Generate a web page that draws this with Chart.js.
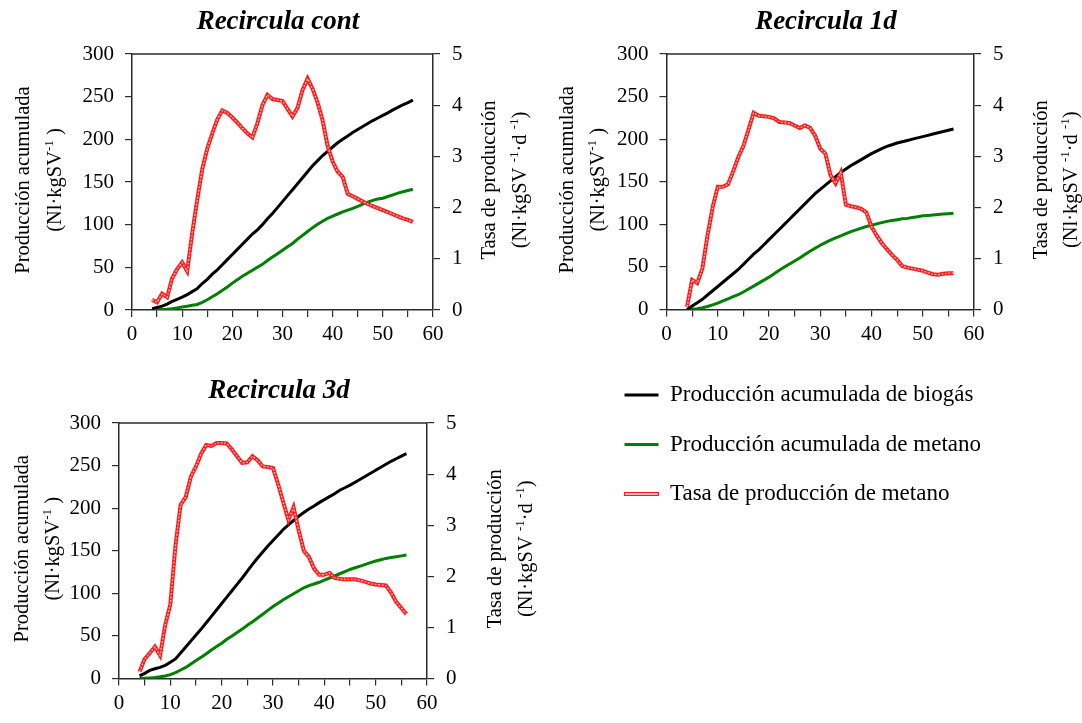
<!DOCTYPE html>
<html>
<head>
<meta charset="utf-8">
<script src="https://cdn.jsdelivr.net/npm/chart.js@4.4.1/dist/chart.umd.min.js"></script>
<style>
  html, body { margin: 0; padding: 0; background: #fff; width: 1082px; height: 723px; overflow: hidden; }
  canvas { position: absolute; }
</style>
</head>
<body>
<canvas id="cont"></canvas>
<canvas id="d1"></canvas>
<canvas id="d3"></canvas>
<canvas id="legend"></canvas>
<script>
// Days of digestion (x axis)
const days = [4, 5, 6, 7, 8, 9, 10, 11, 12, 13, 14, 15, 16, 17, 18, 19, 20, 21, 22, 23,
  24, 25, 26, 27, 28, 29, 30, 31, 32, 33, 34, 35, 36, 37, 38, 39, 40, 41, 42, 43,
  44, 45, 46, 47, 48, 49, 50, 51, 52, 53, 54, 55, 56];

// Recircula cont
const contBiogas = [1.5, 3, 4.5, 7, 10, 12.5, 15, 18, 21.5, 25, 31, 36, 42, 47, 53, 59, 65, 71, 77, 83,
  89, 94, 100, 107, 113, 120, 127, 134, 141, 148, 155, 162, 169, 175, 181, 186, 191, 196, 200, 204,
  208, 211.5, 215, 218.5, 222, 225, 228, 231, 234.5, 237.5, 240.5, 243, 246];
const contMetano = [0, 0.3, 0.7, 1, 1.5, 2.5, 3.5, 4.5, 5.5, 6.5, 9, 12, 15.5, 19, 23, 27, 31.5, 35.5, 39.5, 43,
  46.5, 50, 53.5, 58, 62, 66, 70, 74, 78, 83, 87.5, 92, 96.5, 100.5, 104, 107.5, 110, 112.5, 115, 117,
  119, 121.5, 124, 126.5, 128.5, 130, 131, 133, 135, 137, 138.5, 140, 141.5];
const contTasa = [0.2, 0.15, 0.32, 0.25, 0.62, 0.8, 0.93, 0.76, 1.5, 2.15, 2.75, 3.15, 3.45, 3.72, 3.9, 3.85, 3.76, 3.66, 3.55, 3.45,
  3.37, 3.65, 4.0, 4.2, 4.12, 4.1, 4.08, 3.93, 3.78, 3.95, 4.3, 4.52, 4.32, 4.05, 3.7, 3.2, 2.9, 2.7, 2.6, 2.27,
  2.22, 2.17, 2.12, 2.07, 2.03, 1.99, 1.95, 1.91, 1.87, 1.83, 1.79, 1.76, 1.72];

// Recircula 1d
const d1Biogas = [0, 4, 8, 12, 17, 22, 27, 32, 37, 42, 47, 53, 59, 65, 70, 76, 82, 88, 94, 100,
  106, 112, 118, 124, 130, 136, 141, 146, 151, 156, 161, 165, 169, 172.5, 176, 179.5, 183, 186, 189, 191.5,
  193.5, 195.5, 197, 198.5, 200, 201.5, 203, 204.5, 206, 207.5, 209, 210.5, 212];
const d1Metano = [0, 0.5, 1, 2, 3.5, 5.5, 7.5, 10, 12.5, 15, 17.5, 20.5, 24, 27.5, 31, 34.5, 38, 42, 46, 50,
  53.5, 57, 60.5, 64.5, 68.5, 72, 75.5, 78.5, 81.5, 84, 86.5, 89, 91.5, 93.5, 95.5, 97.5, 99, 100.5, 102, 103.5,
  104.5, 105.5, 106.5, 107, 108, 109, 110, 110.5, 111, 111.5, 112, 112.5, 113];
const d1Tasa = [0.05, 0.58, 0.52, 0.8, 1.45, 2.0, 2.4, 2.4, 2.45, 2.7, 2.98, 3.2, 3.52, 3.85, 3.79, 3.78, 3.77, 3.74, 3.67, 3.66,
  3.65, 3.6, 3.55, 3.6, 3.56, 3.4, 3.15, 3.05, 2.63, 2.47, 2.68, 2.05, 2.02, 2.0, 1.97, 1.9, 1.62, 1.45, 1.3, 1.18,
  1.07, 0.97, 0.85, 0.82, 0.8, 0.78, 0.76, 0.72, 0.69, 0.68, 0.7, 0.71, 0.71];

// Recircula 3d
const d3Biogas = [3, 6, 9.5, 11.5, 13, 15.5, 19, 23, 30, 37, 44, 51, 58, 65.5, 73, 80.5, 88, 95.5, 103, 110.5,
  118, 126, 134, 141.5, 148.5, 155.5, 162, 168.5, 175, 180.5, 185.5, 190.5, 195, 199, 202.5, 206.5, 210, 213.5, 217, 221,
  224, 227, 230.5, 234, 237.5, 241, 244.5, 248, 251.5, 255, 258, 261, 264];
const d3Metano = [0, 0.3, 0.7, 1.2, 2, 3, 4.5, 7, 10, 13, 17, 21, 25, 29, 33.5, 37.5, 41.5, 46, 50, 54,
  58, 62.5, 66.5, 71, 75.5, 80, 84.5, 88.5, 92.5, 96, 99.5, 103, 106.5, 109, 111, 113, 115.5, 118, 120.5, 123,
  125.5, 128, 130, 132, 134, 136, 138, 139.5, 141, 142, 143, 144, 145];
const d3Tasa = [0.13, 0.38, 0.5, 0.62, 0.45, 1.05, 1.45, 2.6, 3.4, 3.55, 3.95, 4.15, 4.4, 4.57, 4.55, 4.61, 4.61, 4.6, 4.48, 4.35,
  4.22, 4.23, 4.35, 4.27, 4.15, 4.14, 4.12, 3.8, 3.45, 3.1, 3.35, 2.9, 2.5, 2.38, 2.15, 2.03, 2.03, 2.07, 1.97, 1.95,
  1.94, 1.94, 1.94, 1.92, 1.89, 1.86, 1.84, 1.83, 1.82, 1.68, 1.5, 1.38, 1.26];

// Axis tick labels
const xTickLabels = [0, 10, 20, 30, 40, 50, 60];
const leftTicks = [0, 50, 100, 150, 200, 250, 300];
const rightTicks = [0, 1, 2, 3, 4, 5];

// Series names
const seriesNames = ['Producción acumulada de biogás', 'Producción acumulada de metano', 'Tasa de producción de metano'];

const FONT = '"Liberation Serif", "Times New Roman", serif';
const AXIS = '#2b2b2b';
const GREEN = '#008000';
const RED = '#ff1a1a';
const PINK = '#ffbcbc';
Chart.defaults.font.family = FONT;
Chart.defaults.color = '#000';

// Rotated (bottom-to-top) text with optional superscript runs
function drawRotated(ctx, parts, cx, cy, size) {
  const base = size + 'px ' + FONT;
  const sup = Math.round(size * 0.62) + 'px ' + FONT;
  ctx.save();
  ctx.translate(cx, cy);
  ctx.rotate(-Math.PI / 2);
  ctx.fillStyle = '#000';
  ctx.textBaseline = 'alphabetic';
  ctx.textAlign = 'left';
  let total = 0;
  parts.forEach(p => { ctx.font = p.sup ? sup : base; p.w = ctx.measureText(p.t).width; total += p.w; });
  let x = -total / 2;
  const baseY = size * 0.33;
  parts.forEach(p => {
    ctx.font = p.sup ? sup : base;
    ctx.fillText(p.t, x, p.sup ? baseY - size * 0.4 : baseY);
    x += p.w;
  });
  ctx.restore();
}

// Frame top edge and the two-line axis captions
const captionPlugin = {
  id: 'captions',
  afterDraw(chart, args, o) {
    const ctx = chart.ctx, a = chart.chartArea;
    ctx.save();
    ctx.strokeStyle = AXIS;
    ctx.lineWidth = 1.5;
    ctx.beginPath();
    ctx.moveTo(a.left, a.top);
    ctx.lineTo(a.right, a.top);
    ctx.stroke();
    ctx.restore();
    const cy = (a.top + a.bottom) / 2 + o.dy;
    const s = o.size;
    drawRotated(chart.ctx, [{ t: 'Producción acumulada' }], a.left + o.left1, cy, s);
    drawRotated(chart.ctx, [{ t: '(Nl·kgSV' }, { t: '-1', sup: true }, { t: ' )' }], a.left + o.left2, cy, s);
    drawRotated(chart.ctx, [{ t: 'Tasa de producción' }], a.right + o.right1, cy, s);
    drawRotated(chart.ctx, [{ t: '(Nl·kgSV ' }, { t: '-1', sup: true }, { t: '·d ' }, { t: '-1', sup: true }, { t: ')' }], a.right + o.right2, cy, s);
  }
};

function makePanel(id, g, title, biogas, metano, tasa, cap) {
  const el = document.getElementById(id);
  el.width = g.w; el.height = g.h;
  el.style.left = g.x + 'px'; el.style.top = g.y + 'px';
  const pts = (ys) => days.map((d, i) => ({ x: d, y: ys[i] }));
  const rate = pts(tasa);
  return new Chart(el, {
    type: 'line',
    data: {
      datasets: [
        { label: seriesNames[0], data: pts(biogas), yAxisID: 'y', borderColor: '#000', borderWidth: 3, pointRadius: 0, order: 2 },
        { label: seriesNames[1], data: pts(metano), yAxisID: 'y', borderColor: GREEN, borderWidth: 3, pointRadius: 0, order: 3 },
        // methane rate: red band with a light chained core
        { label: seriesNames[2], data: rate, yAxisID: 'y2', borderColor: RED, borderWidth: 4, pointRadius: 0, order: 1 },
        { label: seriesNames[2], data: rate, yAxisID: 'y2', borderColor: PINK, borderWidth: 1.3, borderDash: [2, 1.5],
          pointRadius: 0, order: 0 }
      ]
    },
    options: {
      responsive: false,
      animation: false,
      events: [],
      layout: { padding: 0 },
      plugins: {
        legend: { display: false },
        tooltip: { enabled: false },
        title: { display: true, text: title, color: '#000', font: { size: 27, weight: 'bold', style: 'italic' },
                 padding: { top: 6, bottom: 54 - 6 - 27 * 1.2 } },
        captions: cap
      },
      scales: {
        x: {
          type: 'linear', min: 0, max: 60,
          afterFit: (s) => { s.height = g.xH; },
          border: { color: AXIS, width: 1.5 },
          grid: { drawOnChartArea: false, color: AXIS, tickLength: 7, lineWidth: 1.2 },
          ticks: { stepSize: 5, autoSkip: false, maxRotation: 0, padding: 5, color: '#000', font: { size: 21 },
                   callback: (v) => xTickLabels.includes(v) ? String(v) : '' }
        },
        y: {
          position: 'left', min: leftTicks[0], max: leftTicks[leftTicks.length - 1],
          afterFit: (s) => { s.width = g.yW; },
          border: { color: AXIS, width: 1.5 },
          grid: { drawOnChartArea: false, color: AXIS, tickLength: 7, lineWidth: 1.2 },
          ticks: { stepSize: 50, padding: 11, color: '#000', font: { size: 21 } }
        },
        y2: {
          position: 'right', min: rightTicks[0], max: rightTicks[rightTicks.length - 1],
          afterFit: (s) => { s.width = g.y2W; },
          border: { color: AXIS, width: 1.5 },
          grid: { drawOnChartArea: false, color: AXIS, tickLength: 7, lineWidth: 1.2 },
          ticks: { stepSize: 1, padding: 12, color: '#000', font: { size: 21 } }
        }
      }
    },
    plugins: [captionPlugin]
  });
}

makePanel('cont', { x: 0, y: 0, w: 556, h: 360, yW: 132, y2W: 123, xH: 50 },
  'Recircula cont', contBiogas, contMetano, contTasa,
  { left1: -110, left2: -78, right1: 55, right2: 86, dy: -2, size: 20.5 });

makePanel('d1', { x: 545, y: 0, w: 562, h: 360, yW: 121.5, y2W: 133, xH: 50.5 },
  'Recircula 1d', d1Biogas, d1Metano, d1Tasa,
  { left1: -100, left2: -69, right1: 66, right2: 96, dy: -2, size: 20.5 });

makePanel('d3', { x: 0, y: 369, w: 558, h: 354, yW: 119, y2W: 131, xH: 44.5 },
  'Recircula 3d', d3Biogas, d3Metano, d3Tasa,
  { left1: -98, left2: -67, right1: 67, right2: 98, dy: -2, size: 20.5 });

// Shared legend
(function () {
  const el = document.getElementById('legend');
  el.width = 430; el.height = 360;
  el.style.left = '598px'; el.style.top = '357px';
  const swatches = [
    { fill: '#000', stroke: '#000', lw: 0 },
    { fill: GREEN, stroke: GREEN, lw: 0 },
    { fill: PINK, stroke: RED, lw: 1.2 }
  ];
  new Chart(el, {
    type: 'line',
    data: { datasets: seriesNames.map((n) => ({ label: n, data: [] })) },
    options: {
      responsive: false, animation: false, events: [],
      scales: { x: { display: false }, y: { display: false } },
      plugins: {
        tooltip: { enabled: false },
        legend: {
          position: 'top', align: 'start', maxHeight: 300,
          labels: {
            boxWidth: 34, boxHeight: 3, padding: 26.5, color: '#000', font: { size: 23 },
            generateLabels: () => seriesNames.map((n, i) => ({
              text: n, fillStyle: swatches[i].fill, strokeStyle: swatches[i].stroke,
              lineWidth: swatches[i].lw, hidden: false, datasetIndex: i
            }))
          }
        }
      }
    }
  });
})();
</script>
</body>
</html>
